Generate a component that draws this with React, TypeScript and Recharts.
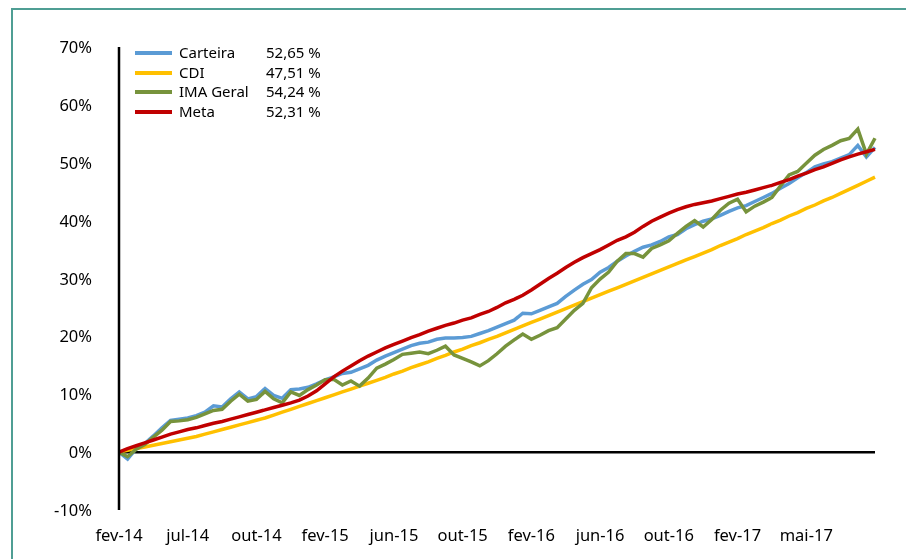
import React from 'react';
import { LineChart, Line, XAxis, YAxis, ReferenceLine } from 'recharts';

const FONT = '"Noto Sans", "Open Sans", sans-serif';

// x tick labels and the data index each label sits at
const xLabels = ['fev-14', 'jul-14', 'out-14', 'fev-15', 'jun-15', 'out-15', 'fev-16', 'jun-16', 'out-16', 'fev-17', 'mai-17'];
const xLabelIndex = [0, 8, 16, 24, 32, 40, 48, 56, 64, 72, 80];

const yTicks = [-10, 0, 10, 20, 30, 40, 50, 60, 70];

const seriesNames = ['Carteira', 'CDI', 'IMA Geral', 'Meta'];
const seriesColors = ['#5b9bd5', '#ffc000', '#77933c', '#c00000'];
const legendValues = ['52,65 %', '47,51 %', '54,24 %', '52,31 %'];

const carteira = [
  0, -1.2, 0.6, 1.5, 2.8, 4.2, 5.5, 5.7, 5.9, 6.3,
  6.9, 8.0, 7.8, 9.2, 10.4, 9.2, 9.6, 11.0, 9.8, 9.3,
  10.8, 10.9, 11.2, 11.8, 12.5, 13.0, 13.6, 13.8, 14.4, 15.0,
  15.9, 16.6, 17.2, 17.8, 18.4, 18.8, 19.0, 19.5, 19.7, 19.7,
  19.8, 20.0, 20.5, 21.0, 21.6, 22.2, 22.8, 24.0, 23.9, 24.5,
  25.1, 25.7, 26.9, 28.0, 29.0, 29.8, 31.1, 31.9, 33.0, 33.9,
  34.7, 35.4, 35.8, 36.4, 37.2, 37.6, 38.6, 39.3, 39.9, 40.3,
  40.9, 41.6, 42.2, 42.6, 43.3, 44.0, 44.7, 45.6, 46.4, 47.4,
  48.3, 49.3, 49.8, 50.2, 50.8, 51.4, 53.0, 51.0, 52.65,
];

const cdi = [
  0, 0.3, 0.6, 0.9, 1.2, 1.5, 1.8, 2.1, 2.4, 2.7,
  3.1, 3.5, 3.9, 4.3, 4.7, 5.1, 5.5, 5.9, 6.4, 6.9,
  7.4, 7.9, 8.4, 8.9, 9.4, 9.9, 10.4, 10.9, 11.4, 11.9,
  12.4, 12.9, 13.5, 14.0, 14.6, 15.1, 15.6, 16.2, 16.7, 17.3,
  17.8, 18.4, 18.9, 19.5, 20.0, 20.6, 21.2, 21.8, 22.4, 23.0,
  23.6, 24.2, 24.8, 25.4, 26.0, 26.6, 27.2, 27.8, 28.4, 29.0,
  29.6, 30.2, 30.8, 31.4, 32.0, 32.6, 33.2, 33.8, 34.4, 35.0,
  35.7, 36.3, 36.9, 37.6, 38.2, 38.8, 39.5, 40.1, 40.8, 41.4,
  42.1, 42.7, 43.4, 44.0, 44.7, 45.4, 46.1, 46.8, 47.51,
];

const imaGeral = [
  0, -0.8, 0.5, 1.3, 2.6, 3.8, 5.3, 5.4, 5.6, 6.0,
  6.6, 7.2, 7.4, 8.8, 10.0, 8.8, 9.1, 10.5, 9.2, 8.5,
  10.4, 9.8, 10.8, 11.6, 12.5, 12.6, 11.6, 12.3, 11.4, 12.8,
  14.5, 15.2, 16.0, 16.9, 17.1, 17.3, 17.0, 17.6, 18.3, 16.8,
  16.2, 15.6, 14.9, 15.8, 17.0, 18.3, 19.4, 20.4, 19.5, 20.2,
  21.0, 21.5, 23.0, 24.5, 25.7, 28.4, 29.9, 31.1, 33.0, 34.3,
  34.3, 33.7, 35.2, 35.8, 36.5, 37.8, 39.0, 40.0, 38.9, 40.2,
  41.8, 43.0, 43.7, 41.5, 42.5, 43.2, 44.0, 46.0, 47.9, 48.5,
  49.9, 51.3, 52.3, 53.0, 53.8, 54.2, 55.8, 51.5, 54.24,
];

const meta = [
  0, 0.6, 1.1, 1.6, 2.1, 2.6, 3.1, 3.5, 3.9, 4.2,
  4.6, 5.0, 5.3, 5.7, 6.1, 6.5, 6.9, 7.3, 7.7, 8.1,
  8.5, 9.0, 9.7, 10.6, 11.8, 13.0, 14.0, 14.9, 15.8, 16.6,
  17.3, 18.0, 18.6, 19.2, 19.8, 20.3, 20.9, 21.4, 21.9, 22.3,
  22.8, 23.2, 23.8, 24.3, 25.0, 25.8, 26.4, 27.1, 28.0, 29.0,
  30.0, 30.9, 31.9, 32.8, 33.6, 34.3, 35.0, 35.8, 36.6, 37.2,
  38.0, 39.0, 39.9, 40.6, 41.3, 41.9, 42.4, 42.8, 43.1, 43.4,
  43.8, 44.2, 44.6, 44.9, 45.3, 45.7, 46.1, 46.6, 47.1, 47.7,
  48.2, 48.8, 49.3, 49.9, 50.5, 51.0, 51.5, 51.9, 52.31,
];

const data = carteira.map((v, i) => ({
  i,
  carteira: v,
  cdi: cdi[i],
  ima: imaGeral[i],
  meta: meta[i],
}));

const keys = ['carteira', 'cdi', 'ima', 'meta'];

const XTick = (props: any) => {
  const { x, y, payload } = props;
  const k = xLabelIndex.indexOf(payload.value);
  return (
    <text x={x} y={y + 31} textAnchor="middle" fontSize={16.5} fill="#000" fontFamily={FONT}>
      {k >= 0 ? xLabels[k] : ''}
    </text>
  );
};

const YTick = (props: any) => {
  const { x, y, payload } = props;
  return (
    <text x={x} y={y} dy={6} textAnchor="end" fontSize={16.5} fill="#000" fontFamily={FONT}>
      {`${payload.value}%`}
    </text>
  );
};

export default function App() {
  return (
    <div style={{ position: 'relative', width: 890, height: 540, fontFamily: FONT }}>
      <div
        style={{
          position: 'fixed',
          left: 11,
          top: 8,
          width: 1200,
          height: 1200,
          borderLeft: '2px solid #4f9e94',
          borderTop: '2px solid #4f9e94',
          pointerEvents: 'none',
        }}
      />
      <LineChart
        width={890}
        height={540}
        data={data}
        margin={{ top: 39, right: 23, left: 0, bottom: 0 }}
      >
        <XAxis
          dataKey="i"
          type="number"
          domain={[0, 88]}
          ticks={xLabelIndex}
          interval={0}
          axisLine={false}
          tickLine={false}
          tickSize={0}
          tickMargin={0}
          height={38}
          tick={<XTick />}
        />
        <YAxis
          type="number"
          domain={[-10, 70]}
          ticks={yTicks}
          interval={0}
          width={111}
          axisLine={{ stroke: '#000', strokeWidth: 2.5 }}
          tickLine={false}
          tickSize={0}
          tickMargin={27}
          tick={<YTick />}
        />
        <ReferenceLine y={0} stroke="#000" strokeWidth={2.5} ifOverflow="visible" />
        {keys.map((k, idx) => (
          <Line
            key={k}
            type="linear"
            dataKey={k}
            name={seriesNames[idx]}
            stroke={seriesColors[idx]}
            strokeWidth={3.5}
            dot={false}
            activeDot={false}
            isAnimationActive={false}
          />
        ))}
      </LineChart>
      <div
        style={{
          position: 'absolute',
          left: 127,
          top: 35,
          fontSize: 15,
          color: '#000',
        }}
      >
        {seriesNames.map((n, idx) => (
          <div key={n} style={{ display: 'flex', alignItems: 'center', height: 19.7 }}>
            <span
              style={{
                display: 'inline-block',
                width: 37,
                height: 4,
                background: seriesColors[idx],
                marginRight: 7,
              }}
            />
            <span style={{ display: 'inline-block', width: 87, lineHeight: '19.7px' }}>{n}</span>
            <span style={{ lineHeight: '19.7px' }}>{legendValues[idx]}</span>
          </div>
        ))}
      </div>
    </div>
  );
}
